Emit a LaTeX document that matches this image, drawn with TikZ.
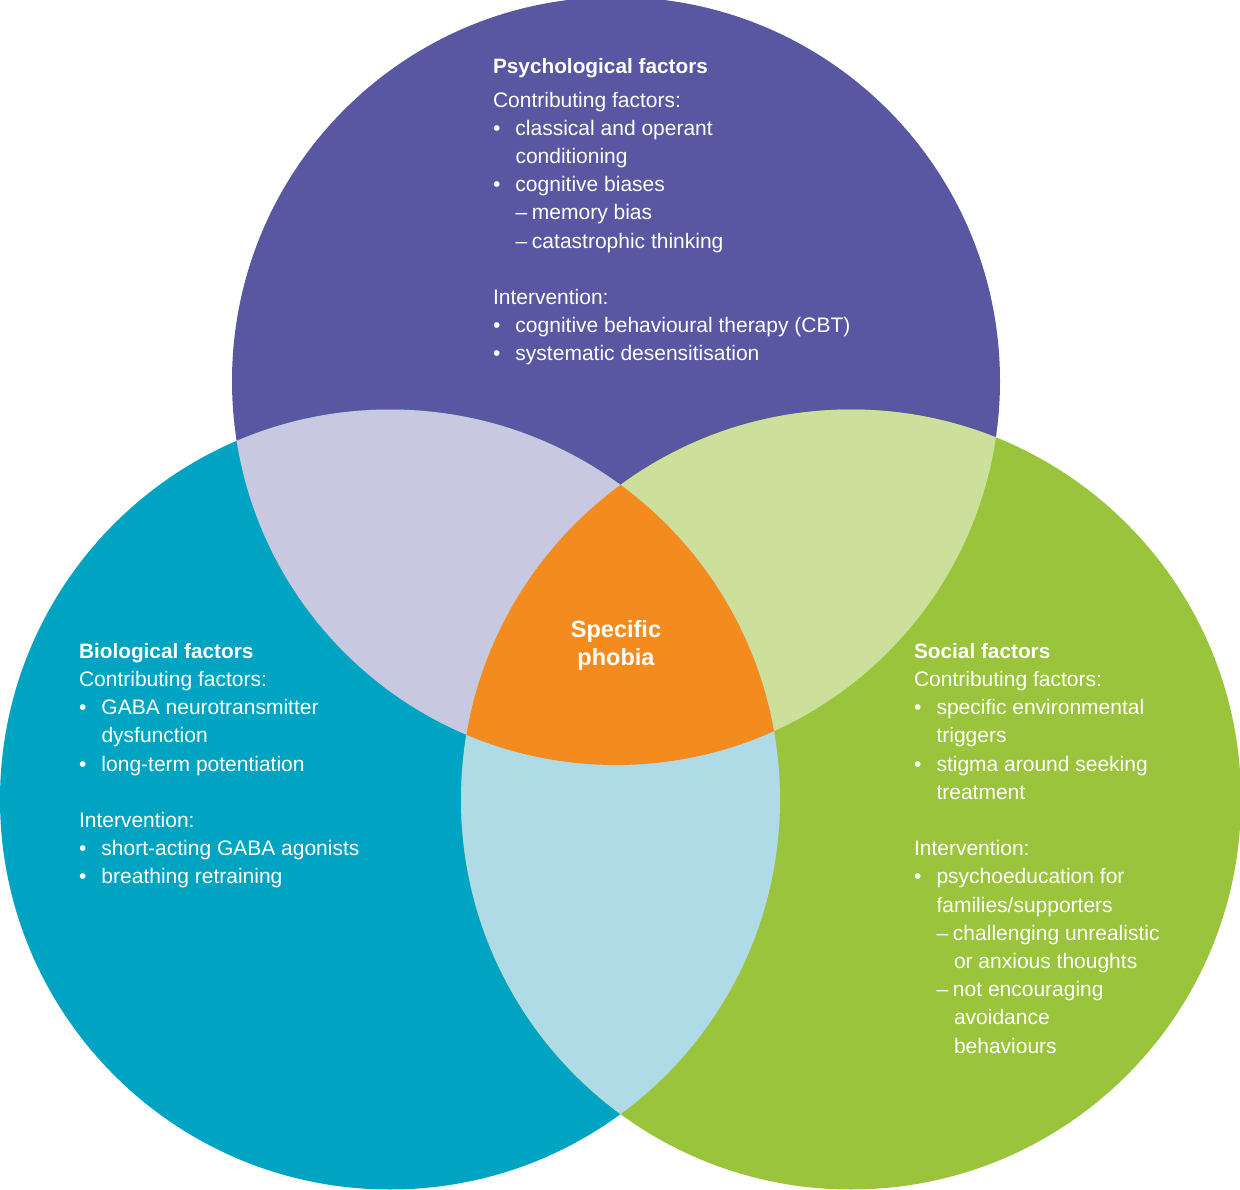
\documentclass[tikz,border=0pt]{standalone}
\usepackage{fontspec}
\setmainfont{Liberation Sans}
\definecolor{cpsy}{HTML}{5957A1}
\definecolor{cbio}{HTML}{00A4C3}
\definecolor{csoc}{HTML}{9AC43C}
\definecolor{cpb}{HTML}{C9C8E1}
\definecolor{cps}{HTML}{CCE09B}
\definecolor{cbs}{HTML}{AFDBE6}
\definecolor{call}{HTML}{F38B1F}
\newcommand\bul{\makebox[22.5pt][l]{•}}
\newcommand\ind{\hspace*{22.5pt}}
\newcommand\dsh{\makebox[16.5pt][l]{–}}
\newcommand\dind{\hspace*{17.5pt}}
\newcommand\blk[1]{\vtop{\baselineskip=28.2pt\lineskiplimit=-100pt\lineskip=0pt #1}}
\newcommand\li[1]{\hbox{#1}}
\newcommand\ttl[1]{\hbox{\fontsize{20.8}{28.2}\selectfont\bfseries #1}}
\newcommand\ctr[1]{\hbox to 0pt{\hss\fontsize{23.5}{28.2}\selectfont\bfseries #1\hss}}
\begin{document}
\begin{tikzpicture}[x=1pt,y=-1pt,
  txt/.style={inner sep=0pt,outer sep=0pt,anchor=base west,text=white,font=\fontsize{21}{28.2}\selectfont}]
\useasboundingbox (0,0) rectangle (1240,1190);
\coordinate (T) at (616,381);
\coordinate (L) at (390,799.5);
\coordinate (R) at (851,799.5);
\def\rT{384pt}
\def\rL{390pt}
% base circles
\fill[cpsy] (T) circle (\rT);
\fill[cbio] (L) circle (\rL);
\fill[csoc] (R) circle (\rL);
% pairwise intersections
\begin{scope}
  \clip (T) circle (\rT);
  \fill[cpb] (L) circle (\rL);
  \fill[cps] (R) circle (\rL);
\end{scope}
\begin{scope}
  \clip (L) circle (\rL);
  \fill[cbs] (R) circle (\rL);
\end{scope}
% triple intersection
\begin{scope}
  \clip (T) circle (\rT);
  \clip (L) circle (\rL);
  \fill[call] (R) circle (\rL);
\end{scope}
% texts
\node[txt] (psy) at (493,74) {\blk{%
  \ttl{Psychological factors}\vskip5pt
  \li{Contributing factors:}
  \li{\bul classical and operant}
  \li{\ind conditioning}
  \li{\bul cognitive biases}
  \li{\ind\dsh memory bias}
  \li{\ind\dsh catastrophic thinking}
  \li{}
  \li{Intervention:}
  \li{\bul cognitive behavioural therapy (CBT)}
  \li{\bul systematic desensitisation}}};
\node[txt] (bio) at (79,658.3) {\blk{%
  \ttl{Biological factors}
  \li{Contributing factors:}
  \li{\bul GABA neurotransmitter}
  \li{\ind dysfunction}
  \li{\bul long-term potentiation}
  \li{}
  \li{Intervention:}
  \li{\bul short-acting GABA agonists}
  \li{\bul breathing retraining}}};
\node[txt] (soc) at (914,658.3) {\blk{%
  \ttl{Social factors}
  \li{Contributing factors:}
  \li{\bul specific environmental}
  \li{\ind triggers}
  \li{\bul stigma around seeking}
  \li{\ind treatment}
  \li{}
  \li{Intervention:}
  \li{\bul psychoeducation for}
  \li{\ind families/supporters}
  \li{\ind\dsh challenging unrealistic}
  \li{\ind\dind or anxious thoughts}
  \li{\ind\dsh not encouraging}
  \li{\ind\dind avoidance}
  \li{\ind\dind behaviours}}};
\node[txt,anchor=base] (sp) at (616,637) {\blk{%
  \ctr{Specific}
  \ctr{phobia}}};
\end{tikzpicture}
\end{document}
